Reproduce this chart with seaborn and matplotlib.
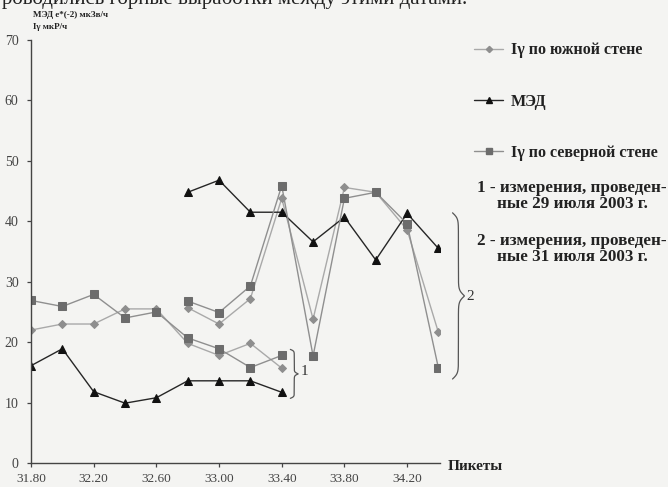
import numpy as np
import pandas as pd
import matplotlib
matplotlib.use("Agg")
import matplotlib.pyplot as plt
import seaborn as sns
from matplotlib.lines import Line2D

# Пикеты (29 и 31 июля)
piket_1 = [31.8, 32.0, 32.2, 32.4, 32.6, 32.8, 33.0, 33.2, 33.4]
piket_2 = [32.8, 33.0, 33.2, 33.4, 33.6, 33.8, 34.0, 34.2, 34.4]
# 1 - 29 июля 2003
yug_1 = [22.0, 23.0, 23.0, 25.5, 25.5, 19.8, 17.8, 19.8, 15.7]
med_1 = [16.1, 18.9, 11.8, 9.9, 10.8, 13.6, 13.6, 13.6, 11.7]
sev_1 = [26.9, 25.9, 27.9, 24.0, 25.0, 20.7, 18.9, 15.8, 17.8]
# 2 - 31 июля 2003
yug_2 = [25.7, 23.0, 27.2, 43.8, 23.8, 45.6, 44.8, 38.6, 21.6]
med_2 = [44.8, 46.8, 41.5, 41.5, 36.6, 40.7, 33.6, 41.3, 35.5]
sev_2 = [26.8, 24.9, 29.3, 45.9, 17.7, 43.8, 44.8, 39.6, 15.7]

tick_piket = [31.8, 32.2, 32.6, 33.0, 33.4, 33.8, 34.2]
names = ["Iγ по южной стене", "МЭД", "Iγ по северной стене"]

rows = []
for date, pk, series in [("29.07", piket_1, [yug_1, med_1, sev_1]),
                         ("31.07", piket_2, [yug_2, med_2, sev_2])]:
    for name, vals in zip(names, series):
        for p, v in zip(pk, vals):
            rows.append({"piket": p, "value": v, "serie": name, "date": date})
df = pd.DataFrame(rows)

# стиль линий: (цвет линии, цвет маркера, маркер, размер)
stil = {
    "Iγ по южной стене": ("#a9a9a9", "#8e8e8e", "D", 4.5),
    "МЭД": ("#262626", "#111111", "^", 6),
    "Iγ по северной стене": ("#8f8f8f", "#6c6c6c", "s", 5.5),
}

sns.set_style("ticks")
plt.rcParams["font.family"] = ["Liberation Serif", "DejaVu Serif"]
BG = "#f4f4f2"

fig = plt.figure(figsize=(6.68, 4.87), dpi=100, facecolor=BG)
ax = fig.add_axes([31 / 668, 1 - 463 / 487, 409 / 668, 423 / 487])
ax.set_facecolor(BG)

for name in names:
    lc, mc, m, ms = stil[name]
    sns.lineplot(data=df[df["serie"] == name], x="piket", y="value", units="date",
                 estimator=None, ax=ax, color=lc, marker=m, markersize=ms,
                 markerfacecolor=mc, markeredgecolor=mc, linewidth=1.0, sort=False)

ax.set_xlim(31.8, 34.41)
ax.set_ylim(0, 70)
ax.set_xticks(tick_piket)
ax.set_xticklabels([f"{t:.2f}" for t in tick_piket])
ax.set_yticks(range(0, 71, 10))
ax.set_xlabel("")
ax.set_ylabel("")
ax.tick_params(axis="both", labelsize=9.5, colors="#444444", length=3, width=0.9)
ax.tick_params(axis="y", labelsize=10, pad=6)
ax.tick_params(axis="x", pad=4)
for s in ["top", "right"]:
    ax.spines[s].set_visible(False)
for s in ["left", "bottom"]:
    ax.spines[s].set_color("#444444")
    ax.spines[s].set_linewidth(1.0)


def skobka(x0, y_top, y_bot, w, n=200):
    # фигурная скобка в координатах данных
    beta = 60.0
    t = np.linspace(0, 0.5, n)
    half = (1 / (1 + np.exp(-beta * (t - t[0]))) + 1 / (1 + np.exp(-beta * (t - t[-1]))))
    shape = np.concatenate([half, half[::-1]]) - 0.5
    ys = np.linspace(y_top, y_bot, 2 * n)
    ax.plot(x0 + w * shape, ys, color="#555555", lw=0.9, clip_on=False)


skobka(33.455, 18.8, 10.7, 0.05)
skobka(34.49, 41.4, 13.9, 0.075)
ax.text(33.52, 15.1, "1", fontsize=11, color="#333333", va="center", clip_on=False)
ax.text(34.58, 27.5, "2", fontsize=11, color="#333333", va="center", clip_on=False)

# подписи осей
fig.text(33 / 668, 1 - 15 / 487, "МЭД е*(-2) мкЗв/ч", fontsize=6.5, fontweight="bold",
         color="#222222", va="center")
fig.text(33 / 668, 1 - 27 / 487, "Iγ мкР/ч", fontsize=6.5, fontweight="bold",
         color="#222222", va="center")
fig.text(448 / 668, 1 - 466 / 487, "Пикеты", fontsize=11, fontweight="bold",
         color="#222222", va="center")
# обрезанная строка текста сверху
fig.text(2 / 668, 1 - 4 / 487, "роводились горные выработки между этими датами.",
         fontsize=15, color="#222222", va="baseline")

handles = []
for name in names:
    lc, mc, m, ms = stil[name]
    handles.append(Line2D([], [], color=lc, marker=m, markersize=ms * 0.7,
                          markerfacecolor=mc, markeredgecolor=mc, lw=1.0))
leg = fig.legend(handles, names, loc="upper left", bbox_to_anchor=(460 / 668, 1 - 28 / 487),
                 frameon=False, labelspacing=2.2, handlelength=1.8, handletextpad=0.5,
                 prop={"family": ["Liberation Serif"], "weight": "bold", "size": 11.5})
for t in leg.get_texts():
    t.set_color("#222222")

fig.text(572 / 668, 1 - 196 / 487, "1 - измерения, проведен-\nные 29 июля 2003 г.",
         fontsize=12.3, fontweight="bold", color="#222222", ha="center", va="center",
         multialignment="center", linespacing=1.05)
fig.text(572 / 668, 1 - 249 / 487, "2 - измерения, проведен-\nные 31 июля 2003 г.",
         fontsize=12.3, fontweight="bold", color="#222222", ha="center", va="center",
         multialignment="center", linespacing=1.05)

fig.savefig("out.png", dpi=100, facecolor=BG)
